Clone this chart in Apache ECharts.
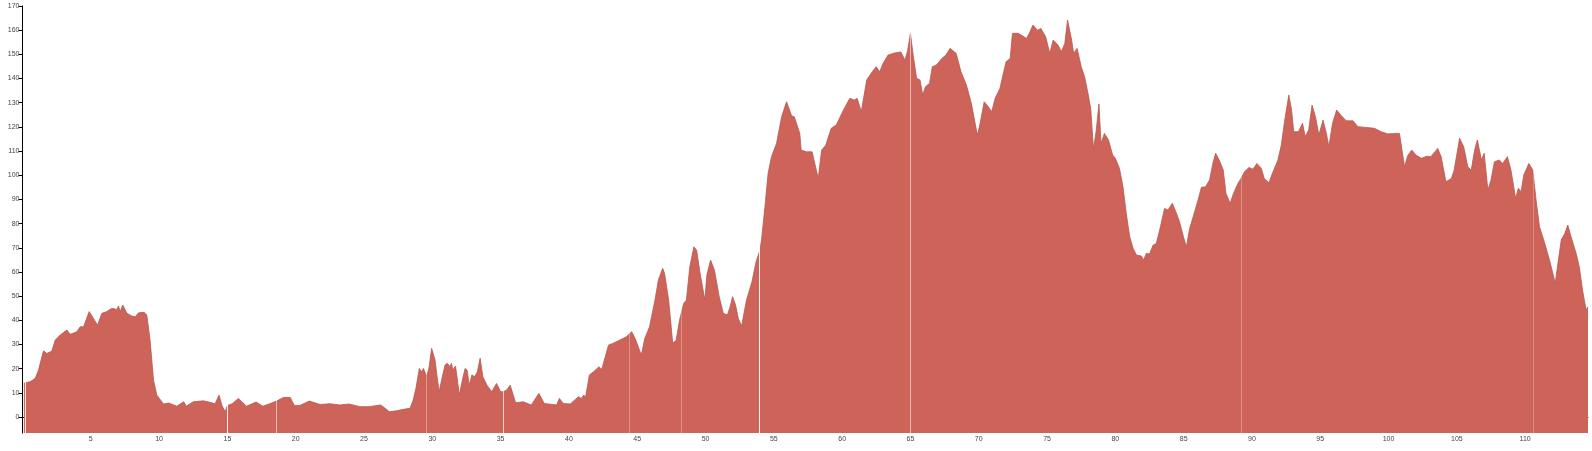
<!DOCTYPE html>
<html><head><meta charset="utf-8">
<script src="https://cdn.jsdelivr.net/npm/echarts@6/dist/echarts.min.js"></script>
<style>html,body{margin:0;padding:0;background:#fff}#c{width:1592px;height:451px}</style>
</head><body><div id="c"></div>
<script>
const xs = [
0.1,0.2,0.56,0.93,1.17,1.42,1.54,1.78,2.15,2.39,2.76,3.25,3.49,3.98,4.22,4.47,4.88,5.2,5.49,5.81,6.17,6.54,6.9,7.03,7.15,7.34,7.64,8.0,8.25,8.5,8.9,9.1,9.34,9.59,9.83,10.32,10.69,11.3,11.8,12.0,12.5,13.25,13.7,14.1,14.39,14.6,14.83,15.0,15.35,15.8,16.4,17.1,17.6,18.1,18.6,19.1,19.6,19.9,20.3,21.0,21.8,22.5,
23.25,23.9,24.7,25.4,26.2,26.4,26.86,27.4,27.9,28.37,28.6,28.8,29.05,29.2,29.35,29.59,29.77,29.95,30.2,30.35,30.5,30.68,30.93,31.1,31.3,31.4,31.5,31.7,31.98,32.2,32.4,32.55,32.7,32.9,33.1,33.3,33.5,33.7,34.0,34.35,34.7,35.0,35.2,35.45,35.7,36.1,36.65,37.25,37.8,38.2,39.1,39.3,39.6,40.1,40.7,40.9,41.1,41.2,41.5,41.8,42.2,42.4,42.9,43.2,43.7,43.96,44.2,44.6,44.9,45.3,45.55,45.9,46.3,46.55,46.86,47.0,47.3,47.6,47.85,48.1,48.4,48.6,48.85,49.15,49.35,49.6,49.95,50.1,50.37,50.65,51.0,51.3,51.6,51.8,51.98,52.2,52.4,52.64,53.0,53.4,53.7,53.98,
54.1,54.35,54.58,54.83,55.2,55.57,55.93,56.3,56.5,56.9,57.0,57.4,57.8,58.0,58.25,58.5,58.8,59.2,59.57,60.1,60.56,60.9,61.1,61.4,61.8,62.2,62.5,62.75,63.0,63.36,63.85,64.3,64.6,64.8,65.0,65.2,65.45,65.7,65.9,66.1,66.4,66.6,66.9,67.3,67.6,67.9,68.35,68.7,69.1,69.46,69.9,70.1,70.4,70.7,70.95,71.2,71.55,71.8,72.0,72.3,72.47,72.9,73.5,73.7,73.97,74.3,74.55,74.9,75.2,75.45,75.8,76.05,76.3,76.5,76.8,76.95,77.2,77.5,77.75,78.0,78.2,78.4,78.6,78.8,78.95,
79.2,79.5,79.8,80.0,80.3,80.56,80.8,81.05,81.3,81.54,81.9,82.07,82.27,82.5,82.76,83.0,83.3,83.6,83.85,84.17,84.42,84.7,84.95,85.2,85.44,85.73,86.05,86.3,86.6,86.9,87.14,87.34,87.6,87.9,88.1,88.4,88.65,88.97,89.2,89.46,89.78,90.07,90.36,90.68,90.9,91.24,91.5,91.9,92.15,92.4,92.7,92.9,93.06,93.4,93.7,93.9,94.15,94.4,94.65,94.9,95.2,95.45,95.63,95.9,96.2,96.5,96.9,97.4,97.75,98.36,98.97,99.46,99.95,100.56,
100.8,101.17,101.4,101.7,102.0,102.4,102.8,103.1,103.6,103.85,104.2,104.6,104.8,105.2,105.5,105.8,106.05,106.3,106.5,106.8,107.0,107.27,107.5,107.75,108.1,108.36,108.7,108.96,109.3,109.5,109.7,109.9,110.27,110.56,110.8,111.05,111.4,111.78,112.0,112.2,112.4,112.64,112.9,113.12,113.36,113.73,113.96,114.2,114.46,114.6
];
const ys = [
14.0,13.9,14.6,16.0,19.4,24.9,27.4,26.3,27.3,31.8,33.9,36.0,34.2,35.3,37.3,37.3,43.6,40.8,38.0,42.9,43.6,45.0,44.5,45.9,43.6,46.3,42.9,41.8,41.5,43.1,43.3,42.2,31.8,15.3,9.1,5.4,5.8,4.5,6.3,4.5,6.3,6.7,6.1,5.5,9.1,4.8,2.2,4.8,5.5,7.7,4.5,6.2,4.5,5.5,6.6,8.1,8.1,4.8,4.8,6.6,5.2,5.5,
5.0,5.4,4.3,4.3,5.0,4.3,2.2,2.6,3.2,3.6,7.0,11.9,20.1,18.7,20.1,16.7,20.8,28.4,23.6,16.7,10.5,15.3,21.5,22.2,20.8,22.2,19.4,21.1,9.1,15.3,20.1,19.4,13.2,17.4,16.7,18.7,24.3,16.7,13.2,10.5,13.9,10.5,10.5,11.2,13.2,5.9,6.3,5.0,9.8,5.6,5.0,7.7,5.6,5.4,8.4,7.7,9.1,7.7,17.4,18.7,20.8,19.7,29.8,30.4,31.8,32.5,33.2,35.3,31.8,25.6,32.5,37.3,48.4,56.7,61.5,59.5,48.4,30.5,31.8,40.1,47.0,48.4,62.2,70.4,69.0,59.5,48.4,58.8,64.9,60.8,49.8,42.9,42.2,45.6,49.8,46.3,40.8,37.6,48.4,56.0,64.2,69.0,
73.2,87.0,100.8,107.7,113.2,124.2,130.4,124.6,124.2,117.3,110.4,109.7,109.7,104.9,98.7,110.4,112.4,119.4,120.8,127.0,131.8,131.1,131.8,126.3,139.4,142.8,144.9,142.8,146.3,149.7,150.6,151.0,147.6,151.7,158.7,149.7,140.1,139.4,133.2,136.6,138.0,144.9,145.6,148.3,149.7,152.5,150.4,142.8,137.3,129.7,116.6,121.4,130.4,128.3,126.3,131.8,135.9,142.1,146.9,148.3,158.7,158.7,156.6,158.7,162.1,160.0,160.7,157.3,150.4,155.9,153.9,151.1,154.5,164.2,155.9,150.4,152.5,144.9,140.7,133.8,127.5,110.8,118.5,129.5,113.2,
117.3,114.6,108.4,107.0,102.9,95.2,84.2,74.6,69.8,67.0,66.6,64.9,67.7,67.4,71.1,71.8,78.7,86.3,85.6,88.4,85.0,80.8,75.3,70.4,78.0,83.5,89.7,95.0,95.2,98.0,104.9,109.1,106.3,102.2,92.5,88.4,92.5,96.6,98.7,101.5,103.2,102.5,104.9,102.9,98.7,96.9,100.8,106.3,112.5,122.8,133.2,127.0,118.0,118.0,121.5,116.0,118.7,129.0,124.2,116.6,122.8,117.3,111.8,121.5,127.0,124.9,122.5,122.5,120.1,119.8,119.4,118.0,117.1,117.3,
117.3,103.5,108.1,110.4,108.4,107.0,107.9,107.7,111.1,107.7,97.3,98.7,102.1,115.3,111.8,103.5,102.1,110.4,114.6,106.3,109.1,93.9,98.0,105.6,106.3,104.9,107.7,102.2,90.4,94.6,93.2,100.1,104.9,102.2,89.7,78.7,72.5,64.9,60.1,55.3,63.6,73.2,75.9,79.4,74.6,67.7,62.2,52.5,44.3,45.6
];
const yTickValues = [0,10,20,30,40,50,60,70,80,90,100,110,120,130,140,150,160,170];
const xTickValues = [5,10,15,20,25,30,35,40,45,50,55,60,65,70,75,80,85,90,95,100,105,110];
const breakXs = [0.18,15.02,18.55,29.55,35.22,44.45,48.25,53.92,65.0,89.22,110.6];
const breakOpacity = [0.9,0.95,0.55,0.35,0.7,0.3,0.3,0.95,0.55,0.3,0.25];

const points = xs.map((x, i) => [x, ys[i]]);
const chart = echarts.init(document.getElementById('c'), null, {renderer: 'canvas'});
const labelStyle = {fontSize: 7, color: '#444', fontFamily: 'Liberation Sans, Arial, sans-serif'};
chart.setOption({
  animation: false,
  grid: {left: 22.5, right: 4, top: 6, bottom: 18, containLabel: false},
  xAxis: {
    type: 'value', min: 0, max: 114.6,
    axisLine: {show: true, lineStyle: {color: '#000', width: 1}},
    axisTick: {show: true, length: 3, lineStyle: {color: '#000'}, customValues: xTickValues},
    axisLabel: Object.assign({margin: 3, customValues: xTickValues}, labelStyle),
    splitLine: {show: false}
  },
  yAxis: {
    type: 'value', min: -6.6, max: 170,
    axisLine: {show: true, lineStyle: {color: '#000', width: 1}},
    axisTick: {show: true, length: 4, lineStyle: {color: '#000'}, customValues: yTickValues},
    axisLabel: Object.assign({margin: 3, customValues: yTickValues}, labelStyle),
    splitLine: {show: false}
  },
  series: [{
    type: 'line',
    data: points,
    showSymbol: false,
    symbol: 'none',
    smooth: false,
    lineStyle: {color: '#b85850', width: 0.8},
    areaStyle: {color: '#cd6359', opacity: 1, origin: 'start'},
    markLine: {
      silent: true,
      symbol: ['none', 'none'],
      label: {show: false},
      lineStyle: {color: '#ffffff', width: 1, type: 'solid'},
      data: breakXs.map((x, i) => ({xAxis: x, lineStyle: {color: '#ffffff', width: 1, type: 'solid', opacity: breakOpacity[i]}}))
    }
  }]
});
</script>
</body></html>
